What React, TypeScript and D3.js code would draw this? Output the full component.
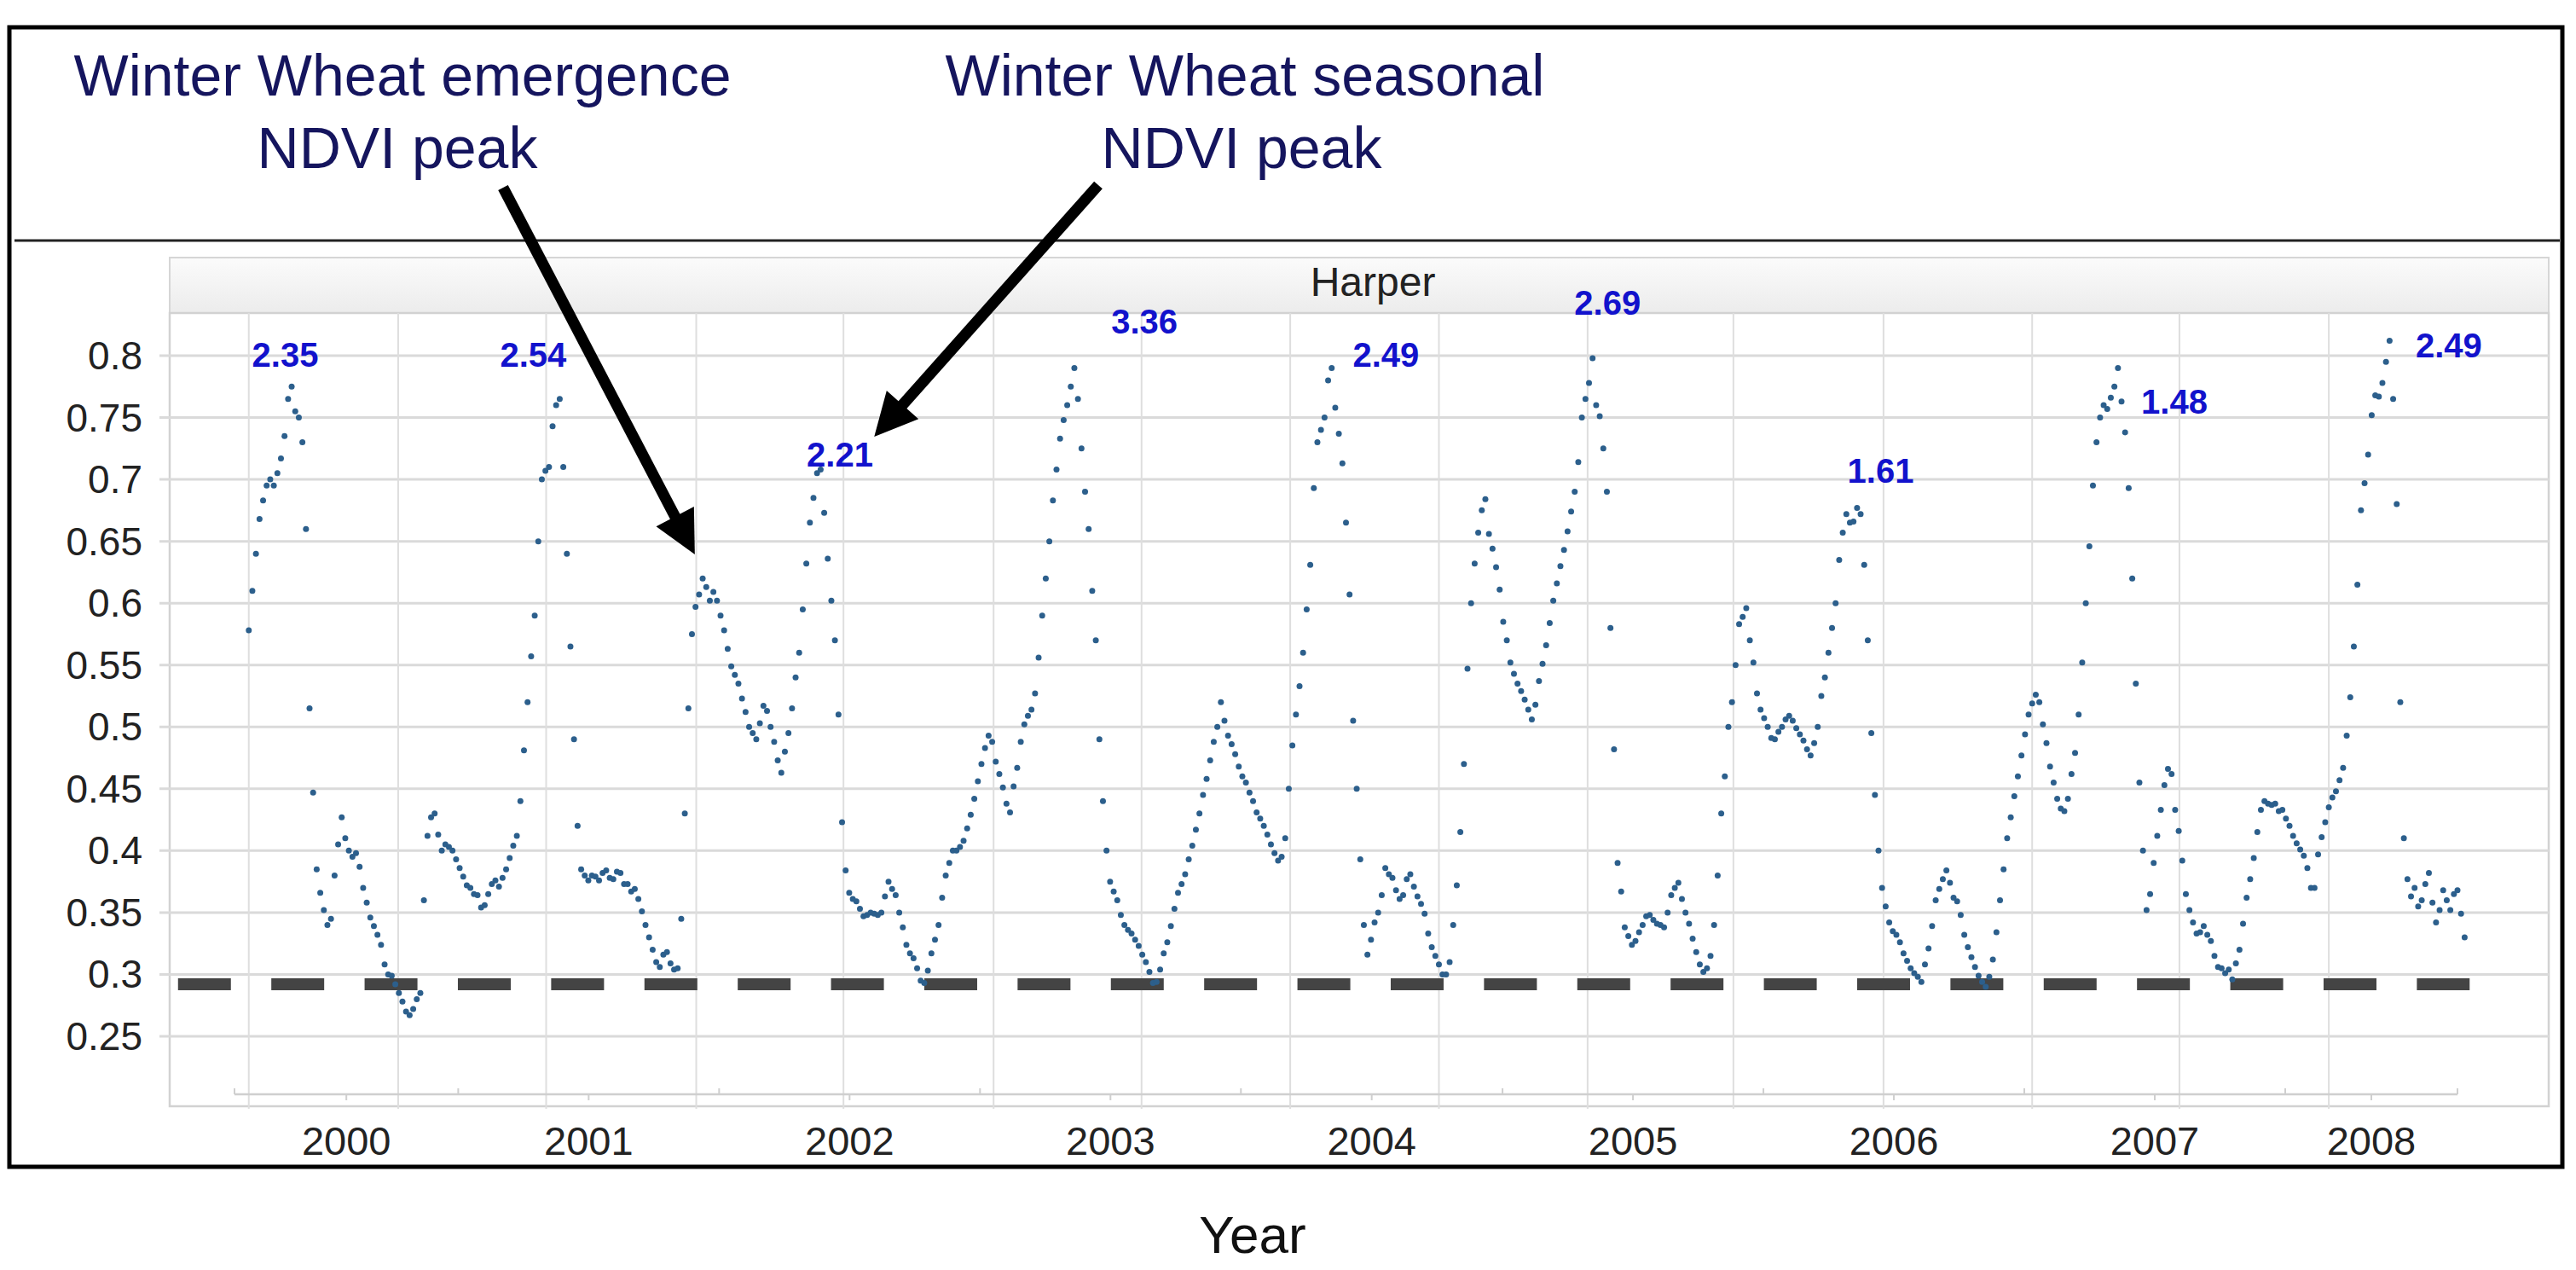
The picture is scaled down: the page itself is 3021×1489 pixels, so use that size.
import React from "react";
import * as d3 from "d3";

// ---------- DATA ----------
const START_DATE = "2000-03-14";
const STEP_DAYS = 5;

const ndvi2000 = [0.578, 0.61, 0.64, 0.668, 0.683, 0.695, 0.7, 0.695, 0.705, 0.717,
  0.735, 0.765, 0.775, 0.755, 0.75, 0.73, 0.66, 0.515, 0.447, 0.385,
  0.366, 0.352, 0.34, 0.345, 0.38, 0.405, 0.427, 0.41, 0.4, 0.395,
  0.398, 0.387, 0.37, 0.358, 0.346, 0.339, 0.332, 0.324, 0.308, 0.3,
  0.299, 0.292, 0.285, 0.278, 0.27, 0.267, 0.272, 0.28, 0.285, 0.36,
  0.412, 0.427, 0.43, 0.413, 0.4, 0.405, 0.403, 0.4, 0.393];
const ndvi2001 = [0.386, 0.379, 0.372, 0.37, 0.365, 0.364, 0.354, 0.356, 0.365, 0.373,
  0.376, 0.371, 0.378, 0.385, 0.394, 0.404, 0.412, 0.44, 0.481, 0.52,
  0.557, 0.59, 0.65, 0.7, 0.707, 0.71, 0.743, 0.76, 0.765, 0.71,
  0.64, 0.565, 0.49, 0.42, 0.385, 0.38, 0.376, 0.38, 0.379, 0.376,
  0.382, 0.384, 0.378, 0.377, 0.383, 0.382, 0.373, 0.373, 0.367, 0.369,
  0.361, 0.351, 0.34, 0.33, 0.32, 0.31, 0.306, 0.316, 0.318, 0.309,
  0.304, 0.305, 0.345, 0.43, 0.515, 0.575, 0.597, 0.607, 0.62, 0.613,
  0.602, 0.609, 0.602];
const ndvi2002 = [0.59, 0.578, 0.563, 0.549, 0.542, 0.535, 0.523, 0.512, 0.5, 0.495,
  0.49, 0.503, 0.517, 0.513, 0.5, 0.488, 0.473, 0.463, 0.48, 0.495,
  0.515, 0.54, 0.56, 0.595, 0.632, 0.665, 0.685, 0.705, 0.708, 0.673,
  0.636, 0.602, 0.57, 0.51, 0.423, 0.384, 0.366, 0.361, 0.359, 0.353,
  0.347, 0.348, 0.35, 0.349, 0.348, 0.35, 0.363, 0.375, 0.369, 0.364,
  0.35, 0.338, 0.324, 0.317, 0.313, 0.305, 0.295, 0.293, 0.303, 0.317,
  0.328, 0.34, 0.362, 0.38, 0.39, 0.4, 0.4, 0.403, 0.408, 0.418,
  0.429, 0.442, 0.456];
const ndvi2003 = [0.47, 0.483, 0.493, 0.488, 0.472, 0.462, 0.451, 0.438, 0.431, 0.452,
  0.467, 0.488, 0.502, 0.509, 0.514, 0.527, 0.556, 0.59, 0.62, 0.65,
  0.683, 0.708, 0.733, 0.748, 0.76, 0.775, 0.79, 0.765, 0.725, 0.69,
  0.66, 0.61, 0.57, 0.49, 0.44, 0.4, 0.375, 0.367, 0.36, 0.348,
  0.34, 0.336, 0.333, 0.328, 0.323, 0.316, 0.31, 0.302, 0.293, 0.294,
  0.304, 0.317, 0.326, 0.339, 0.353, 0.366, 0.373, 0.381, 0.393, 0.404,
  0.417, 0.43, 0.445, 0.458, 0.473, 0.488, 0.5, 0.52, 0.505, 0.493,
  0.486, 0.478, 0.468];
const ndvi2004 = [0.46, 0.455, 0.447, 0.44, 0.431, 0.426, 0.42, 0.413, 0.405, 0.398,
  0.392, 0.395, 0.41, 0.45, 0.485, 0.51, 0.533, 0.56, 0.595, 0.631,
  0.693, 0.73, 0.74, 0.75, 0.78, 0.79, 0.758, 0.737, 0.713, 0.665,
  0.607, 0.505, 0.45, 0.393, 0.34, 0.316, 0.328, 0.342, 0.35, 0.364,
  0.386, 0.381, 0.378, 0.368, 0.361, 0.364, 0.377, 0.381, 0.371, 0.363,
  0.357, 0.349, 0.333, 0.322, 0.315, 0.308, 0.3, 0.3, 0.31, 0.34,
  0.372, 0.415, 0.47, 0.547, 0.6, 0.632, 0.657, 0.675, 0.684, 0.656,
  0.644, 0.629, 0.611];
const ndvi2005 = [0.585, 0.57, 0.552, 0.543, 0.535, 0.529, 0.522, 0.514, 0.506, 0.518,
  0.537, 0.551, 0.566, 0.584, 0.602, 0.616, 0.63, 0.643, 0.658, 0.674,
  0.69, 0.714, 0.75, 0.765, 0.778, 0.798, 0.76, 0.751, 0.725, 0.69,
  0.58, 0.482, 0.39, 0.367, 0.338, 0.331, 0.324, 0.327, 0.334, 0.34,
  0.347, 0.348, 0.344, 0.341, 0.34, 0.338, 0.35, 0.364, 0.37, 0.374,
  0.361, 0.35, 0.341, 0.329, 0.318, 0.308, 0.302, 0.305, 0.315, 0.34,
  0.38, 0.43, 0.46, 0.5, 0.52, 0.55, 0.583, 0.589, 0.596, 0.57,
  0.552, 0.527, 0.514];
const ndvi2006 = [0.507, 0.5, 0.491, 0.49, 0.496, 0.5, 0.506, 0.509, 0.505, 0.499,
  0.494, 0.489, 0.482, 0.477, 0.487, 0.5, 0.525, 0.54, 0.56, 0.58,
  0.6, 0.635, 0.657, 0.672, 0.665, 0.666, 0.677, 0.672, 0.631, 0.57,
  0.495, 0.445, 0.4, 0.37, 0.355, 0.342, 0.335, 0.332, 0.326, 0.317,
  0.311, 0.305, 0.301, 0.298, 0.294, 0.308, 0.321, 0.339, 0.36, 0.369,
  0.377, 0.384, 0.374, 0.362, 0.359, 0.348, 0.332, 0.322, 0.314, 0.306,
  0.299, 0.294, 0.29, 0.298, 0.312, 0.334, 0.36, 0.385, 0.41, 0.427,
  0.444, 0.46, 0.477];
const ndvi2007 = [0.494, 0.51, 0.519, 0.526, 0.52, 0.502, 0.487, 0.468, 0.455, 0.442,
  0.434, 0.432, 0.442, 0.462, 0.479, 0.51, 0.552, 0.6, 0.646, 0.695,
  0.73, 0.75, 0.76, 0.757, 0.766, 0.775, 0.79, 0.763, 0.738, 0.693,
  0.62, 0.535, 0.455, 0.4, 0.352, 0.365, 0.39, 0.412, 0.433, 0.453,
  0.466, 0.462, 0.433, 0.416, 0.392, 0.365, 0.352, 0.342, 0.333, 0.334,
  0.339, 0.332, 0.327, 0.315, 0.306, 0.305, 0.301, 0.304, 0.296, 0.309,
  0.32, 0.341, 0.362, 0.377, 0.394, 0.415, 0.433, 0.44, 0.438, 0.437,
  0.438, 0.432, 0.433];
const ndvi2008 = [0.426, 0.42, 0.412, 0.406, 0.401, 0.396, 0.386, 0.37, 0.37, 0.397,
  0.411, 0.423, 0.435, 0.443, 0.448, 0.457, 0.467, 0.493, 0.524, 0.565,
  0.615, 0.675, 0.697, 0.72, 0.752, 0.768, 0.767, 0.778, 0.795, 0.812,
  0.765, 0.68, 0.52, 0.41, 0.377, 0.363, 0.37, 0.355, 0.36, 0.373,
  0.382, 0.358, 0.342, 0.352, 0.368, 0.36, 0.352, 0.365, 0.368, 0.349,
  0.33];

const yTicks = [0.25, 0.3, 0.35, 0.4, 0.45, 0.5, 0.55, 0.6, 0.65, 0.7, 0.75, 0.8];
const yearLabels = ["2000", "2001", "2002", "2003", "2004", "2005", "2006", "2007", "2008"];
const axisStart = "2000-02-23";
const axisEnd = "2008-08-29";
const gridDates = ["2000-03-14", "2000-10-09", "2001-05-04", "2001-11-30", "2002-06-24",
  "2003-01-20", "2003-08-15", "2004-03-10", "2004-10-04", "2005-04-30", "2005-11-20",
  "2006-06-18", "2007-01-12", "2007-08-06", "2008-03-02"];

const thresholdValue = 0.292;
const thresholdStart = "1999-12-06";
const thresholdEnd = "2008-09-15";

const peakTexts = ["2.35", "2.54", "2.21", "3.36", "2.49", "2.69", "1.61", "1.48", "2.49"];
const peakDates = ["2000-05-04", "2001-04-16", "2002-06-19", "2003-08-19", "2004-07-22",
  "2005-05-28", "2006-06-14", "2007-07-30", "2008-08-17"];
const peakValues = [0.801, 0.801, 0.72, 0.8276, 0.801, 0.843, 0.707, 0.763, 0.808];

const facetTitle = "Harper";
const xTitle = "Year";
const noteEmergence = ["Winter Wheat emergence", "NDVI peak"];
const noteSeasonal = ["Winter Wheat seasonal", "NDVI peak"];
const arrowTipDates = ["2001-11-28", "2002-08-06"];
const arrowTipValues = [0.6394, 0.7345];

// ---------- LAYOUT ----------
const W = 3021;
const H = 1489;
const FONT = "'Liberation Sans', Arial, Helvetica, sans-serif";
const PANEL = { left: 199, right: 2989, top: 302, strip: 367, bottom: 1297 };
const AXIS_Y = 1283;

const parse = d3.utcParse("%Y-%m-%d");

export default function App() {
  const x = d3.scaleUtc()
    .domain([parse(axisStart)!, parse(axisEnd)!])
    .range([275, 2882]);
  const y = d3.scaleLinear().domain([0.25, 0.8]).range([1215, 417]);

  const start = parse(START_DATE)!;
  const series = [ndvi2000, ndvi2001, ndvi2002, ndvi2003, ndvi2004, ndvi2005, ndvi2006, ndvi2007, ndvi2008]
    .flat()
    .map((v, i) => ({ date: d3.utcDay.offset(start, i * STEP_DAYS), v }));

  const [d0, d1] = x.domain();
  const yearInfo = yearLabels.map((lab) => {
    const yr = +lab;
    const ys = new Date(Date.UTC(yr, 0, 1));
    const ye = new Date(Date.UTC(yr + 1, 0, 1));
    const s = ys < d0 ? d0 : ys;
    const e = ye > d1 ? d1 : ye;
    return { lab, xm: (x(s) + x(e)) / 2, boundary: ys > d0 ? x(ys) : null };
  });

  const arrowTails = [[590, 220], [1288, 217]];
  const arrows = arrowTails.map((t, i) => {
    const tip = [x(parse(arrowTipDates[i])!), y(arrowTipValues[i])];
    const dx = tip[0] - t[0];
    const dy = tip[1] - t[1];
    const len = Math.hypot(dx, dy);
    const ux = dx / len, uy = dy / len;
    const hl = 50, hw = 25;
    const bx = tip[0] - ux * hl, by = tip[1] - uy * hl;
    const pts = [
      [tip[0], tip[1]],
      [bx - uy * hw, by + ux * hw],
      [bx + uy * hw, by - ux * hw],
    ];
    return { t, tip, base: [bx + ux * 4, by + uy * 4], pts };
  });

  return (
    <svg width={W} height={H} style={{ position: "absolute", left: 0, top: 0 }} fontFamily={FONT}>
      <defs>
        <linearGradient id="strip" x1="0" y1="0" x2="0" y2="1">
          <stop offset="0" stopColor="#fbfbfb" />
          <stop offset="1" stopColor="#ececec" />
        </linearGradient>
      </defs>
      <rect x={0} y={0} width={W} height={H} fill="#fff" />

      {/* outer frame */}
      <rect x={11} y={32} width={2994} height={1336} fill="none" stroke="#000" strokeWidth={5} />
      <line x1={17} x2={3002} y1={282} y2={282} stroke="#222" strokeWidth={3} />

      {/* annotation text */}
      <g fill="#15155e" fontSize={68} textAnchor="middle">
        <text x={472} y={112}>{noteEmergence[0]}</text>
        <text x={466} y={197}>{noteEmergence[1]}</text>
        <text x={1460} y={112}>{noteSeasonal[0]}</text>
        <text x={1456} y={197}>{noteSeasonal[1]}</text>
      </g>

      {/* panel */}
      <rect x={PANEL.left} y={PANEL.top} width={PANEL.right - PANEL.left} height={PANEL.strip - PANEL.top}
        fill="url(#strip)" stroke="#d6d6d6" strokeWidth={2} />
      <rect x={PANEL.left} y={PANEL.strip} width={PANEL.right - PANEL.left} height={PANEL.bottom - PANEL.strip}
        fill="#fff" stroke="#d2d2d2" strokeWidth={2.5} />
      <text x={1610} y={330} fontSize={48} fill="#222" textAnchor="middle" dominantBaseline="central">{facetTitle}</text>

      {/* grid */}
      {yTicks.map((t) => (
        <line key={"h" + t} x1={187} x2={PANEL.right} y1={y(t)} y2={y(t)} stroke="#dadada" strokeWidth={3} />
      ))}
      {gridDates.map((g) => (
        <line key={"v" + g} x1={x(parse(g)!)} x2={x(parse(g)!)} y1={PANEL.strip} y2={PANEL.bottom + 3}
          stroke="#dedede" strokeWidth={2} />
      ))}
      {yTicks.map((t) => (
        <text key={"yl" + t} x={167} y={y(t)} fontSize={46} fill="#222" textAnchor="end" dominantBaseline="central">
          {String(t)}
        </text>
      ))}

      {/* inner time axis */}
      <line x1={x(d0)} x2={x(d1)} y1={AXIS_Y} y2={AXIS_Y} stroke="#cfcfcf" strokeWidth={2.5} />
      <line x1={x(d0)} x2={x(d0)} y1={AXIS_Y - 7} y2={AXIS_Y} stroke="#cfcfcf" strokeWidth={2} />
      <line x1={x(d1)} x2={x(d1)} y1={AXIS_Y - 7} y2={AXIS_Y} stroke="#cfcfcf" strokeWidth={2} />
      {yearInfo.map((yi) => (
        <g key={"yr" + yi.lab}>
          {yi.boundary !== null && (
            <line x1={yi.boundary} x2={yi.boundary} y1={AXIS_Y - 7} y2={AXIS_Y} stroke="#cfcfcf" strokeWidth={2} />
          )}
          <line x1={yi.xm} x2={yi.xm} y1={AXIS_Y} y2={AXIS_Y + 7} stroke="#cfcfcf" strokeWidth={2} />
          <text x={yi.xm} y={1337} fontSize={47} fill="#222" textAnchor="middle" dominantBaseline="central">
            {yi.lab}
          </text>
        </g>
      ))}

      {/* threshold dashed line */}
      <line x1={x(parse(thresholdStart)!)} x2={x(parse(thresholdEnd)!)} y1={y(thresholdValue)} y2={y(thresholdValue)}
        stroke="#444" strokeWidth={14} strokeDasharray="62 47.4" />

      {/* NDVI points */}
      <g fill="#2c5f8c">
        {series.map((p, i) => (
          <circle key={i} cx={x(p.date)} cy={y(p.v)} r={3.5} />
        ))}
      </g>

      {/* peak labels */}
      <g fill="#1212cc" fontSize={40} fontWeight="bold" textAnchor="middle">
        {peakTexts.map((t, i) => (
          <text key={"pk" + i} x={x(parse(peakDates[i])!)} y={y(peakValues[i])} dominantBaseline="central">{t}</text>
        ))}
      </g>

      {/* arrows */}
      {arrows.map((a, i) => (
        <g key={"ar" + i}>
          <line x1={a.t[0]} y1={a.t[1]} x2={a.base[0]} y2={a.base[1]} stroke="#000" strokeWidth={13} />
          <polygon points={a.pts.map((p) => p.join(",")).join(" ")} fill="#000" />
        </g>
      ))}

      <text x={1469} y={1447} fontSize={62} fill="#111" textAnchor="middle" dominantBaseline="central">{xTitle}</text>
    </svg>
  );
}
